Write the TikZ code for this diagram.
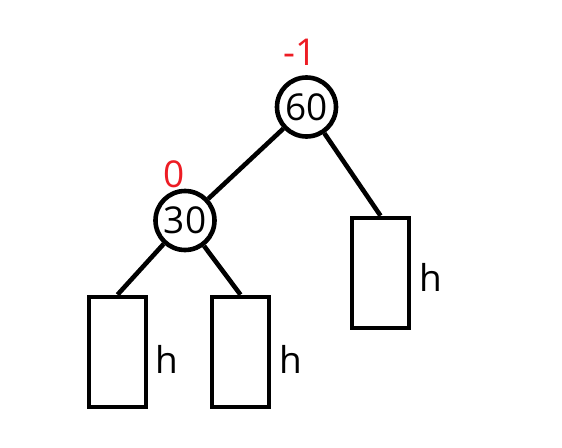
\documentclass[tikz,border=0pt]{standalone}
\usepackage{fontspec}
\setmainfont{Open Sans}
\definecolor{bfred}{RGB}{237,28,36}
\begin{document}
\begin{tikzpicture}[x=1pt,y=-1pt,
  keynode/.style={circle,draw,line width=4.6pt,minimum size=59pt,inner sep=0pt,
    font=\fontsize{37}{39}\selectfont},
  subtree/.style={rectangle,draw,line width=4.6pt,minimum width=57pt,minimum height=110pt,inner sep=0pt},
  edge/.style={line width=4.6pt},
  balance/.style={text=bfred,font=\fontsize{37}{39}\selectfont,inner sep=0pt},
  height/.style={font=\fontsize{37}{39}\selectfont,inner sep=0pt}]
  \useasboundingbox (0,0) rectangle (562,447);
  % keys
  \node[keynode] (n60) at (306.5,107) {60};
  \node[keynode] (n30) at (185,220.5) {30};
  % subtrees of height h
  \node[subtree] (tl) at (117.5,352) {};
  \node[subtree] (tm) at (240.5,352) {};
  \node[subtree] (tr) at (380.5,273) {};
  % edges
  \draw[edge] (n60) -- (n30);
  \draw[edge] (n60) -- (tr.north);
  \draw[edge] (n30) -- (tl.north);
  \draw[edge] (n30) -- (tm.north);
  % balance factors
  \node[balance] (b60) at (300,52) {-1};
  \node[balance] (b30) at (174,174) {0};
  % height labels
  \node[height] (hl) at (167,359) {h};
  \node[height] (hm) at (291,359) {h};
  \node[height] (hr) at (431,277) {h};
\end{tikzpicture}
\end{document}
